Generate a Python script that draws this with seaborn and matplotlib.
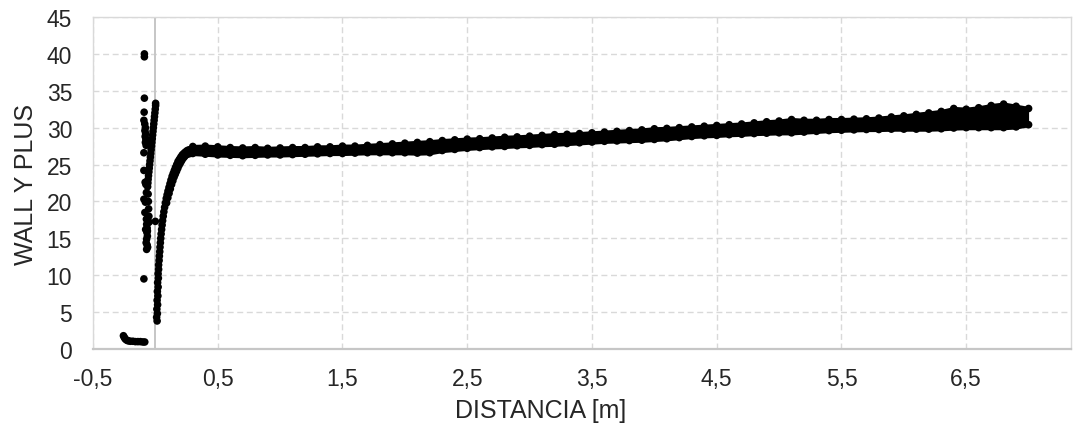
import matplotlib
matplotlib.use("Agg")
import matplotlib.pyplot as plt
import seaborn as sns
import pandas as pd
import numpy as np

# ---------------- data (distance [m], wall y+) ----------------
# low plateau before the leading edge
tail_x = [-0.256, -0.250, -0.244, -0.236, -0.226, -0.215, -0.200, -0.180,
          -0.160, -0.140, -0.120, -0.100, -0.085]
tail_y = [1.80, 1.60, 1.42, 1.27, 1.16, 1.10, 1.05, 1.05, 1.00, 1.00,
          1.00, 0.95, 0.95]

# scattered cells just upstream of x = 0
cluster_x = [-0.088, -0.088, -0.088, -0.090, -0.092, -0.085, -0.080, -0.084,
             -0.078, -0.082, -0.076, -0.080, -0.074, -0.092, -0.092, -0.082,
             -0.076, -0.092, -0.080, -0.072, -0.084, -0.072, -0.070, -0.066,
             -0.078, -0.068, -0.064, -0.070, -0.074, -0.066, -0.062, -0.070,
             -0.064, -0.060, -0.092]
cluster_y = [40.0, 39.6, 34.0, 32.1, 31.0, 30.5, 30.0, 29.6, 29.2, 28.8,
             28.4, 28.0, 27.6, 26.6, 24.2, 22.6, 22.3, 20.3, 19.9, 21.2,
             18.5, 17.6, 16.9, 16.4, 16.2, 15.8, 15.3, 14.9, 14.4, 14.1,
             13.8, 13.5, 16.0, 17.1, 9.5]

# steep branch rising to the leading edge
spike_x = [-0.062, -0.060, -0.058, -0.055, -0.052, -0.049, -0.046, -0.043,
           -0.040, -0.037, -0.034, -0.031, -0.028, -0.025, -0.022, -0.019,
           -0.016, -0.013, -0.010, -0.007, -0.004, -0.001, 0.002, 0.002,
           -0.058, -0.056, -0.054, -0.052, -0.050, 0.000]
spike_y = [22.0, 22.5, 23.0, 23.5, 24.0, 24.5, 25.0, 25.5, 26.0, 26.5,
           27.0, 27.5, 28.0, 28.5, 29.0, 29.5, 30.0, 30.5, 31.0, 31.5,
           32.0, 32.5, 33.0, 33.3, 21.0, 20.0, 19.0, 18.0, 17.2, 17.3]

# recovery downstream of the leading edge
rise_x = [0.014, 0.010, 0.016, 0.012, 0.018, 0.014, 0.020, 0.016, 0.022,
          0.018, 0.024, 0.022, 0.026, 0.026, 0.030, 0.032, 0.035, 0.037,
          0.040, 0.043, 0.046, 0.050, 0.054, 0.058, 0.063, 0.068, 0.074,
          0.080, 0.087, 0.094, 0.101, 0.109, 0.117, 0.125, 0.134, 0.143,
          0.152, 0.161, 0.171, 0.181, 0.192, 0.203, 0.215, 0.227, 0.240,
          0.255, 0.270, 0.285,
          0.090, 0.100, 0.110, 0.120, 0.130, 0.140, 0.150, 0.160, 0.170,
          0.180, 0.190, 0.200, 0.210, 0.220, 0.230, 0.240, 0.260, 0.280]
rise_y = [3.8, 4.3, 4.8, 5.4, 6.0, 6.6, 7.2, 7.8, 8.4, 9.0, 9.6, 10.2,
          10.8, 11.4, 12.0, 12.6, 13.2, 13.8, 14.4, 15.0, 15.6, 16.2, 16.8,
          17.4, 18.0, 18.6, 19.2, 19.8, 20.4, 20.9, 21.4, 21.9, 22.4, 22.9,
          23.4, 23.8, 24.2, 24.6, 25.0, 25.4, 25.7, 26.0, 26.3, 26.5, 26.7,
          26.9, 27.0, 27.0,
          19.8, 20.5, 21.1, 21.7, 22.3, 22.8, 23.3, 23.7, 24.1, 24.5, 24.9,
          25.2, 25.5, 25.8, 26.0, 26.2, 26.4, 26.5]

# developed region: upper and lower envelope of the cell values
band_x = [0.3, 0.4, 0.5, 0.6, 0.7, 0.8, 0.9, 1.0, 1.1, 1.2, 1.3, 1.4, 1.5,
          1.6, 1.7, 1.8, 1.9, 2.0, 2.1, 2.2, 2.3, 2.4, 2.5, 2.6, 2.7, 2.8,
          2.9, 3.0, 3.1, 3.2, 3.3, 3.4, 3.5, 3.6, 3.7, 3.8, 3.9, 4.0, 4.1,
          4.2, 4.3, 4.4, 4.5, 4.6, 4.7, 4.8, 4.9, 5.0, 5.1, 5.2, 5.3, 5.4,
          5.5, 5.6, 5.7, 5.8, 5.9, 6.0, 6.1, 6.2, 6.3, 6.4, 6.5, 6.6, 6.7,
          6.8, 6.9, 7.0]
band_top = [27.45, 27.5, 27.4, 27.3, 27.25, 27.3, 27.2, 27.25, 27.3, 27.3,
            27.4, 27.4, 27.5, 27.5, 27.6, 27.7, 27.8, 27.9, 28.0, 28.1,
            28.25, 28.35, 28.45, 28.5, 28.6, 28.7, 28.75, 28.85, 28.95,
            29.05, 29.1, 29.2, 29.3, 29.4, 29.5, 29.6, 29.7, 29.85, 29.9,
            30.0, 30.1, 30.2, 30.3, 30.4, 30.5, 30.65, 30.8, 30.9, 31.1,
            31.0, 31.0, 31.1, 31.1, 31.15, 31.2, 31.3, 31.45, 31.6, 31.8,
            32.0, 32.2, 32.6, 32.5, 32.7, 33.0, 33.2, 32.9, 32.6]
band_bot = [26.5, 26.4, 26.3, 26.25, 26.2, 26.25, 26.3, 26.3, 26.35, 26.4,
            26.45, 26.5, 26.5, 26.55, 26.6, 26.6, 26.6, 26.6, 26.55, 26.6,
            26.9, 27.05, 27.2, 27.3, 27.4, 27.45, 27.55, 27.6, 27.7, 27.75,
            27.85, 27.95, 28.05, 28.15, 28.2, 28.25, 28.3, 28.4, 28.5,
            28.65, 28.8, 28.9, 28.95, 29.05, 29.1, 29.2, 29.25, 29.3, 29.3,
            29.4, 29.5, 29.6, 29.65, 29.7, 29.75, 29.75, 29.8, 29.8, 29.8,
            29.8, 29.85, 29.95, 30.0, 30.0, 30.0, 30.0, 30.1, 30.4]

x_ticks = [-0.5, 0.5, 1.5, 2.5, 3.5, 4.5, 5.5, 6.5]
y_ticks = [0, 5, 10, 15, 20, 25, 30, 35, 40, 45]

# ---------------- figure ----------------
sns.set_theme(style="white")
plt.rcParams["font.family"] = ["Liberation Sans", "DejaVu Sans"]
plt.rcParams["lines.scale_dashes"] = False

W, H = 1073, 439
fig = plt.figure(figsize=(W / 100, H / 100), dpi=100)
left, right, top, bottom = 93, 1071, 18, 350
ax = fig.add_axes([left / W, 1 - bottom / H, (right - left) / W, (bottom - top) / H])

points = pd.concat([
    pd.DataFrame({"x": tail_x, "y": tail_y}),
    pd.DataFrame({"x": cluster_x, "y": cluster_y}),
    pd.DataFrame({"x": spike_x, "y": spike_y}),
    pd.DataFrame({"x": rise_x, "y": rise_y}),
    pd.DataFrame({"x": band_x, "y": band_top}),
    pd.DataFrame({"x": band_x, "y": band_bot}),
], ignore_index=True)

grid_kw = dict(color="#d9d9d9", linewidth=1.0, linestyle=(0, (4.3, 2.6)))
ax.set_axisbelow(True)
ax.grid(True, axis="both", **grid_kw)

ax.set_xlim(-0.5, 7.34)
ax.set_ylim(0, 45)

# the band of overlapping markers: fill out to most of a marker radius so the
# envelope stays solid and only the individual markers bulge out slightly
marker_s = 30
radius_px = np.sqrt(marker_s) / 2 * fig.dpi / 72
px_per_unit = ax.transData.transform((0, 1))[1] - ax.transData.transform((0, 0))[1]
edge = 0.55 * radius_px / px_per_unit
ax.fill_between(band_x, np.array(band_bot) - edge, np.array(band_top) + edge,
                color="black", linewidth=0, zorder=2)
sns.scatterplot(data=points, x="x", y="y", ax=ax, color="black", s=marker_s,
                linewidth=0, edgecolor="none", zorder=3, legend=False)

# vertical axis crossing at x = 0
ax.axvline(0, color="#c6c6c6", linewidth=1.4, zorder=1)

ax.set_xticks(x_ticks)
ax.set_yticks(y_ticks)
ax.set_xticklabels([f"{v:.1f}".replace(".", ",") for v in x_ticks])
ax.set_yticklabels([str(v) for v in y_ticks])
ax.tick_params(axis="both", length=0, labelsize=16.5, colors="#262626")
ax.tick_params(axis="x", pad=13)
ax.tick_params(axis="y", pad=15)

for side in ("left", "top", "right"):
    ax.spines[side].set_color("#d9d9d9")
    ax.spines[side].set_linewidth(1.0)
ax.spines["bottom"].set_color("#c6c6c6")
ax.spines["bottom"].set_linewidth(1.6)

ax.set_xlabel("DISTANCIA [m]", fontsize=18, color="#262626")
ax.set_ylabel("WALL Y PLUS", fontsize=18, color="#262626", labelpad=6)
# the x title sits centred on the whole chart rather than on the plot area
ax.xaxis.set_label_coords((W / 2 + 4 - left) / (right - left), -61 / (bottom - top))
ax.xaxis.label.set_verticalalignment("center")

fig.savefig("out.png", dpi=100)
